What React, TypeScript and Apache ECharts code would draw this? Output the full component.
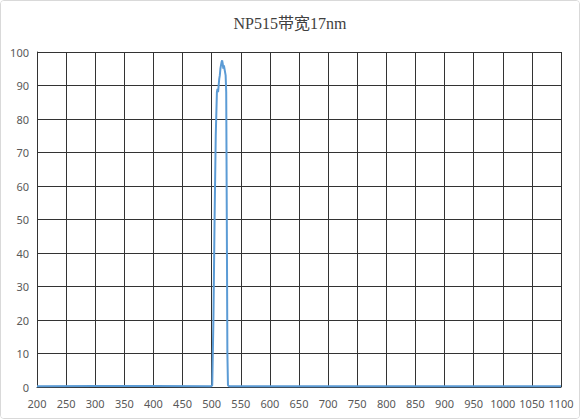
import React, { useEffect, useRef } from "react";
import * as echarts from "echarts";

const title = "NP515带宽17nm";
const wavelengths = [200, 300, 400, 499, 501, 503, 505, 507, 509, 510, 511, 512, 513, 514, 515, 516, 517, 518, 519, 520, 521, 522, 523, 524, 525, 526, 527, 528, 530, 600, 700, 800, 900, 1000, 1100];
const transmittance = [0.2, 0.3, 0.3, 0.2, 0.5, 20, 50, 75, 88, 89, 88, 90, 92, 93, 95, 96, 97, 97.5, 96.5, 95, 96, 95, 94, 93, 88, 50, 10, 0.5, 0.2, 0.2, 0.2, 0.2, 0.2, 0.2, 0.2];

export default function App() {
  const ref = useRef<HTMLDivElement>(null);
  useEffect(() => {
    if (!ref.current) return;
    const chart = echarts.init(ref.current, null, { renderer: "svg" });
    const data = wavelengths.map((w, i) => [w, transmittance[i]]);
    chart.setOption({
      animation: false,
      backgroundColor: "#fff",
      title: {
        text: title,
        left: "center",
        top: 9,
        textStyle: {
          fontFamily: "'Liberation Serif', 'Noto Sans CJK SC', serif",
          fontSize: 16,
          fontWeight: "normal",
          color: "#404040",
        },
      },
      grid: { left: 36, right: 18, top: 51, bottom: 31 },
      xAxis: {
        type: "value",
        min: 200,
        max: 1100,
        interval: 50,
        axisLine: { show: true, lineStyle: { color: "#333", width: 1 } },
        axisTick: { show: false },
        axisLabel: {
          color: "#595959",
          fontSize: 11,
          margin: 11,
          fontFamily: "'Noto Sans', sans-serif",
          formatter: (v: number) => String(v),
        },
        splitLine: { show: true, lineStyle: { color: "#333", width: 1 } },
      },
      yAxis: {
        type: "value",
        min: 0,
        max: 100,
        interval: 10,
        axisLine: { show: true, lineStyle: { color: "#333", width: 1 } },
        axisTick: { show: false },
        axisLabel: { color: "#595959", fontSize: 11, margin: 8, fontFamily: "'Noto Sans', sans-serif" },
        splitLine: { show: true, lineStyle: { color: "#333", width: 1 } },
      },
      series: [
        {
          type: "line",
          data,
          showSymbol: false,
          smooth: false,
          lineStyle: { color: "#5B9BD5", width: 2 },
        },
      ],
    });
    return () => chart.dispose();
  }, []);
  return (
    <div
      style={{
        position: "fixed",
        left: 0,
        top: 0,
        width: 580,
        height: 419,
        boxSizing: "border-box",
        border: "1px solid #d9d9d9",
        borderRadius: 4,
        background: "#fff",
        overflow: "hidden",
      }}
    >
      <div ref={ref} style={{ width: 578, height: 417 }} />
    </div>
  );
}
